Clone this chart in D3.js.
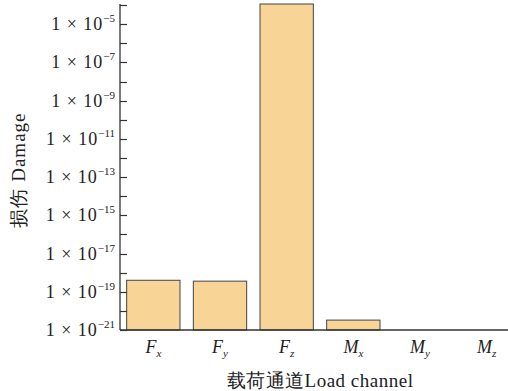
<!DOCTYPE html>
<html>
<head>
<meta charset="utf-8">
<script src="https://cdn.jsdelivr.net/npm/d3@7"></script>
<style>
  body { margin: 0; background: #fff; }
  text { font-family: "Liberation Serif", "Times New Roman", serif; fill: #222; }
</style>
</head>
<body>
<div id="chart"></div>
<script>
// data
const channels = ["F|x", "F|y", "F|z", "M|x", "M|y", "M|z"];
const damage = [4e-19, 3.6e-19, 1.15e-4, 3.3e-21, 0, 0];
const tickExps = [-21, -19, -17, -15, -13, -11, -9, -7, -5];

const W = 508, H = 391;
const svg = d3.select("#chart").append("svg")
    .attr("width", W).attr("height", H);

const x0 = 120, yBase = 330;

const x = d3.scaleBand()
    .domain(channels)
    .range([x0, 520])
    .paddingInner(0.2)
    .paddingOuter(0.1);

const y = d3.scaleLog()
    .domain([1e-21, 1.15e-4])
    .range([yBase, 4]);

// bars (skip channels below the axis minimum)
svg.append("g").selectAll("rect")
    .data(channels.map((c, i) => ({ c, v: damage[i] })).filter(d => d.v > 1e-21))
    .join("rect")
    .attr("x", d => x(d.c))
    .attr("width", x.bandwidth())
    .attr("y", d => y(d.v))
    .attr("height", d => yBase - y(d.v))
    .attr("fill", "#f8d597")
    .attr("stroke", "#444")
    .attr("stroke-width", 1);

// y axis line
svg.append("line")
    .attr("x1", x0).attr("x2", x0)
    .attr("y1", 4).attr("y2", yBase)
    .attr("stroke", "#333").attr("stroke-width", 1.3);

// x axis line
svg.append("line")
    .attr("x1", x0).attr("x2", W)
    .attr("y1", yBase).attr("y2", yBase)
    .attr("stroke", "#333").attr("stroke-width", 1.3);

// ticks every decade, pointing inward
const allExps = d3.range(-21, -3);
svg.append("g").selectAll("line")
    .data(allExps)
    .join("line")
    .attr("x1", x0).attr("x2", x0 + 7)
    .attr("y1", d => Math.round(y(Math.pow(10, d))) + 0.5)
    .attr("y2", d => Math.round(y(Math.pow(10, d))) + 0.5)
    .attr("stroke", "#333").attr("stroke-width", 1.2);

// tick labels 1 × 10^n
const lab = svg.append("g").selectAll("text")
    .data(tickExps)
    .join("text")
    .attr("x", 115)
    .attr("y", d => y(Math.pow(10, d)) + 6)
    .attr("text-anchor", "end")
    .style("font-size", "18px");
lab.append("tspan").style("letter-spacing", "1px").text("1 × 10");
lab.append("tspan")
    .attr("dy", -8)
    .style("font-size", "11px")
    .text(d => "\u2212" + Math.abs(d));

// x category labels, italic with subscript
const xl = svg.append("g").selectAll("text")
    .data(channels)
    .join("text")
    .attr("x", d => x(d) + x.bandwidth() / 2)
    .attr("y", 353)
    .attr("text-anchor", "middle")
    .style("font-size", "18px")
    .style("font-style", "italic");
xl.append("tspan").text(d => d.split("|")[0]);
xl.append("tspan")
    .attr("dy", 4)
    .style("font-size", "11px")
    .text(d => d.split("|")[1]);

// axis titles
svg.append("text")
    .attr("x", 320).attr("y", 387)
    .attr("text-anchor", "middle")
    .style("font-size", "19px")
    .style("letter-spacing", "0.5px")
    .text("载荷通道Load channel");

svg.append("text")
    .attr("transform", "translate(25,170) rotate(-90)")
    .attr("text-anchor", "middle")
    .style("font-size", "19px")
    .style("letter-spacing", "1px")
    .text("损伤  Damage");
</script>
</body>
</html>
